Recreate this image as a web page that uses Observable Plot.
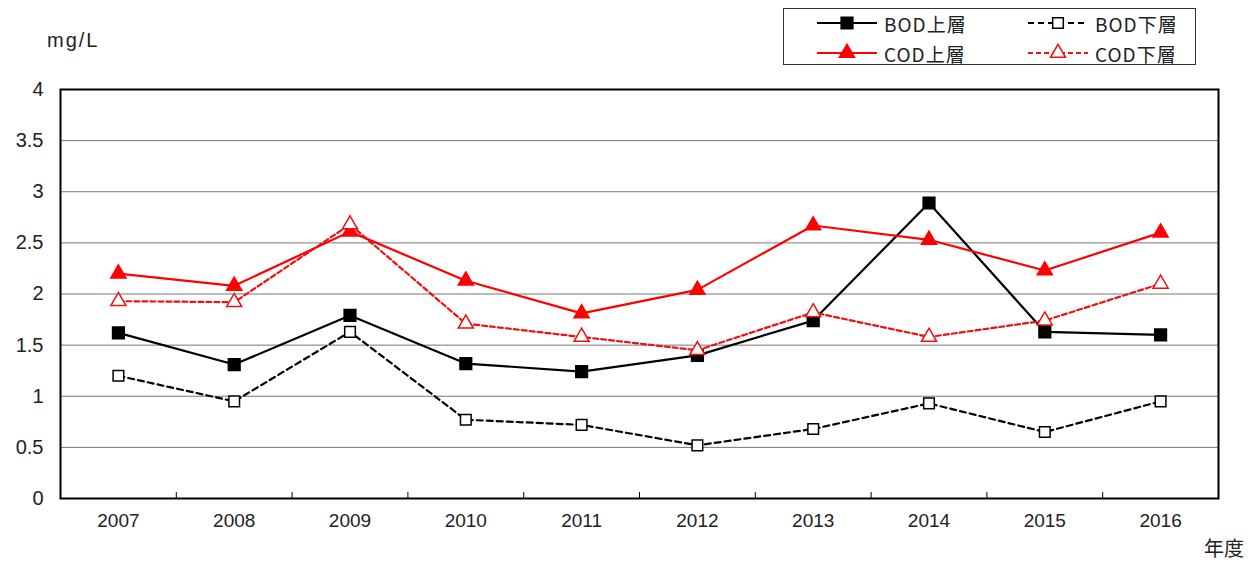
<!DOCTYPE html>
<html>
<head>
<meta charset="utf-8">
<script src="https://cdn.jsdelivr.net/npm/d3@7"></script>
<script src="https://cdn.jsdelivr.net/npm/@observablehq/plot@0.6"></script>
<style>
  html, body { margin: 0; padding: 0; background: #fff; }
  #wrap { position: relative; width: 1260px; height: 565px; font-family: "Liberation Sans", Arial, sans-serif; color: #222; }
  #chart svg { display: block; overflow: visible; }
  .lbl { position: absolute; font-size: 20px; white-space: nowrap; }
  #legend { position: absolute; left: 783px; top: 8px; width: 413px; height: 57px; border: 1.5px solid #333; box-sizing: border-box; background: #fff; }
  .item { position: absolute; display: flex; align-items: center; font-family: "Noto Sans CJK JP", "Liberation Sans", sans-serif; font-size: 19px; letter-spacing: 1px; color: #222; }
  .item svg { display: block; margin-right: 6px; }
</style>
</head>
<body>
<div id="wrap">
  <div id="chart"></div>
  <div class="lbl" style="left:47px; top:29px; letter-spacing:2px;">mg/L</div>
  <div class="lbl" style="left:1204px; top:533px; font-family:'Noto Sans CJK JP',sans-serif;">年度</div>
  <div id="legend"></div>
</div>
<script>
const years = [2007, 2008, 2009, 2010, 2011, 2012, 2013, 2014, 2015, 2016];
const bodUpper = [1.62, 1.31, 1.79, 1.32, 1.24, 1.40, 1.74, 2.89, 1.63, 1.60];
const bodLower = [1.20, 0.95, 1.63, 0.77, 0.72, 0.52, 0.68, 0.93, 0.65, 0.95];
const codUpper = [2.20, 2.08, 2.61, 2.13, 1.81, 2.04, 2.67, 2.53, 2.23, 2.60];
const codLower = [1.93, 1.92, 2.68, 1.71, 1.58, 1.45, 1.82, 1.58, 1.74, 2.10];
const yTicks = [0, 0.5, 1, 1.5, 2, 2.5, 3, 3.5, 4];
const seriesNames = ["BOD上層", "BOD下層", "COD上層", "COD下層"];

const series = [
  {name: seriesNames[0], values: bodUpper, color: "#000", dash: null, symbol: "square", fill: "#000", r: 6.6},
  {name: seriesNames[1], values: bodLower, color: "#000", dash: "6,4", symbol: "square", fill: "#fff", r: 6.0},
  {name: seriesNames[2], values: codUpper, color: "#ff0000", dash: null, symbol: "triangle", fill: "#ff0000", r: 5.6},
  {name: seriesNames[3], values: codLower, color: "#ee1111", dash: "5,3", symbol: "triangle", fill: "#fff", r: 5.6}
];

const bounds = years.slice(0, -1).map(y => y + 0.5);
const domainX = [years[0] - 0.5, years[years.length - 1] + 0.5];

const marks = [
  Plot.ruleY(yTicks.slice(1, -1), {stroke: "#777", strokeWidth: 1}),
  Plot.axisX(bounds, {anchor: "bottom", tickSize: 6, dy: -6, tickFormat: () => "", stroke: "#000", label: null}),
  Plot.axisX(years, {anchor: "bottom", tickSize: 0, tickPadding: 15, fontSize: 19, tickFormat: d => String(d), fill: "#222", label: null}),
  Plot.axisY(yTicks, {anchor: "left", tickSize: 0, tickPadding: 17, fontSize: 20, tickFormat: d => String(d), fill: "#222", label: null})
];
for (const s of series) {
  const data = years.map((y, i) => ({year: y, value: s.values[i]}));
  marks.push(Plot.line(data, {x: "year", y: "value", stroke: s.color, strokeWidth: 2.2, strokeDasharray: s.dash}));
  marks.push(Plot.dot(data, {x: "year", y: "value", symbol: s.symbol, r: s.r, fill: s.fill, stroke: s.color, strokeWidth: 1.5}));
}
marks.push(Plot.frame({stroke: "#000", strokeWidth: 2}));

const chart = Plot.plot({
  width: 1260,
  height: 565,
  marginLeft: 60,
  marginRight: 42,
  marginTop: 89,
  marginBottom: 67,
  x: {domain: domainX, axis: null, label: null},
  y: {domain: [0, 4], axis: null, label: null},
  style: {fontFamily: "'Liberation Sans', Arial, sans-serif", background: "#fff"},
  marks
});
document.getElementById("chart").appendChild(chart);

// legend
const legend = d3.select("#legend");
const pos = [[32, 15], [243, 15], [32, 45], [243, 45]];
series.forEach((s, i) => {
  const item = legend.append("div").attr("class", "item")
    .style("left", pos[i][0] + "px").style("top", (pos[i][1] - 14) + "px").style("height", "26px");
  const svg = item.append("svg").attr("width", 62).attr("height", 26);
  svg.append("line").attr("x1", 1).attr("x2", 61).attr("y1", 13).attr("y2", 13)
    .attr("stroke", s.color).attr("stroke-width", 2.2).attr("stroke-dasharray", s.dash);
  const sym = s.symbol === "square" ? d3.symbolSquare : d3.symbolTriangle;
  svg.append("path").attr("transform", "translate(31,13)")
    .attr("d", d3.symbol(sym, Math.PI * s.r * s.r)())
    .attr("fill", s.fill).attr("stroke", s.color).attr("stroke-width", 1.5);
  item.append("span").text(s.name);
});
</script>
</body>
</html>
